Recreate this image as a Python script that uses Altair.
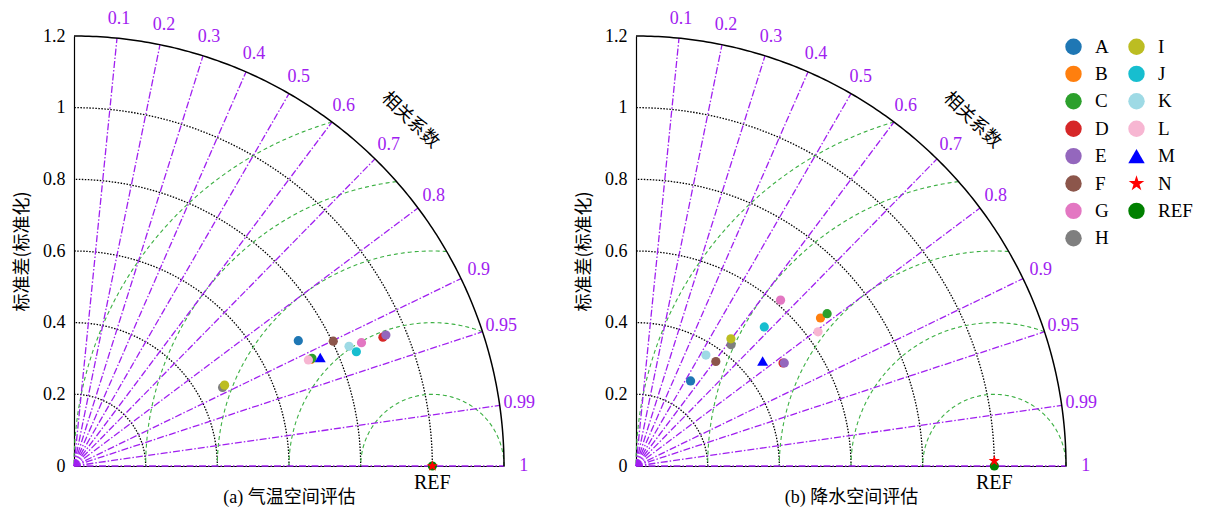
import altair as alt
import numpy as np
import pandas as pd

# ---------------- data ----------------
models = ["A", "B", "C", "D", "E", "F", "G", "H", "I", "J", "K", "L", "M", "N"]
colors = ["#1f77b4", "#ff7f0e", "#2ca02c", "#d62728", "#9467bd", "#8c564b", "#e377c2",
          "#7f7f7f", "#bcbd22", "#17becf", "#9edae5", "#f7b6d2", "#0000ff", "#ff0000"]
STAR = ("M0,-1L0.2245,-0.309L0.9511,-0.309L0.3633,0.118L0.5878,0.809L0,0.382"
        "L-0.5878,0.809L-0.3633,0.118L-0.9511,-0.309L-0.2245,-0.309Z")
shapes = ["circle"] * 12 + ["triangle-up", STAR]
ref_name = "REF"
ref_color = "#008000"

# (a) temperature: normalised std and correlation
temp_std = [0.717, 0.725, 0.729, 0.934, 0.944, 0.803, 0.873, 0.469, 0.477, 0.850, 0.837, 0.718, 0.751, 1.000]
temp_corr = [0.873, 0.912, 0.911, 0.923, 0.922, 0.901, 0.919, 0.884, 0.881, 0.927, 0.917, 0.911, 0.915, 1.000]
# (b) precipitation
prec_std = [0.282, 0.660, 0.682, 0.501, 0.504, 0.367, 0.614, 0.430, 0.443, 0.528, 0.366, 0.631, 0.459, 1.000]
prec_corr = [0.540, 0.780, 0.782, 0.819, 0.821, 0.607, 0.657, 0.617, 0.598, 0.678, 0.533, 0.805, 0.770, 0.9999]

captions = ["(a) 气温空间评估", "(b) 降水空间评估"]
y_title = "标准差(标准化)"
corr_title = "相关系数"

std_grid = [0.2, 0.4, 0.6, 0.8, 1.0]
std_max = 1.2
rms_grid = [0.2, 0.4, 0.6, 0.8, 1.0]
corr_ticks = [0.1, 0.2, 0.3, 0.4, 0.5, 0.6, 0.7, 0.8, 0.9, 0.95, 0.99, 1.0]
corr_labels = ["0.1", "0.2", "0.3", "0.4", "0.5", "0.6", "0.7", "0.8", "0.9", "0.95", "0.99", "1"]
y_ticks = [0, 0.2, 0.4, 0.6, 0.8, 1.0, 1.2]

legend_order = models + [ref_name]

# ---------------- styling ----------------
SERIF = "Liberation Serif, Times New Roman, serif"
CJK = "Noto Sans CJK SC, sans-serif"
MIX = "Liberation Serif, Noto Sans CJK SC, serif"
PURPLE = "#a020f0"
GREEN = "#3cb043"

cmap = dict(zip(models + [ref_name], colors + [ref_color]))
smap = dict(zip(models + [ref_name], shapes + ["circle"]))
color_scale = alt.Scale(domain=legend_order, range=[cmap[k] for k in legend_order])
shape_scale = alt.Scale(domain=legend_order, range=[smap[k] for k in legend_order])

legend = alt.Legend(title=None, orient="none", legendX=990, legendY=1, columns=2,
                    symbolSize=270, labelFont=SERIF, labelFontSize=19, labelColor="black",
                    rowPadding=7.4, columnPadding=18, labelOffset=12, padding=0,
                    symbolStrokeWidth=0)

xs = alt.Scale(domain=[0, std_max], nice=False, zero=True)
ys = alt.Scale(domain=[0, std_max], nice=False, zero=True)


def geometry():
    rows = []
    t = np.linspace(0, np.pi / 2, 181)
    for r in std_grid + [std_max]:
        for i, a in enumerate(t):
            rows.append({"r": r, "i": i, "x": r * np.cos(a), "y": r * np.sin(a)})
    arcs = pd.DataFrame(rows)
    rows = []
    for R in rms_grid:
        cmin = (std_max ** 2 - 1 - R ** 2) / (2 * R)
        pmin = np.arccos(min(1.0, cmin))
        for i, p in enumerate(np.linspace(pmin, np.pi, 181)):
            rows.append({"R": R, "i": i, "x": 1 + R * np.cos(p), "y": R * np.sin(p)})
    rms = pd.DataFrame(rows)
    rows = []
    for c in corr_ticks:
        a = np.arccos(c)
        rows.append({"c": c, "i": 0, "x": 0.0, "y": 0.0})
        rows.append({"c": c, "i": 1, "x": std_max * np.cos(a), "y": std_max * np.sin(a)})
    rays = pd.DataFrame(rows)
    lab = pd.DataFrame({"t": corr_labels,
                        "x": [1.255 * c for c in corr_ticks],
                        "y": [1.255 * np.sin(np.arccos(c)) for c in corr_ticks]})
    return arcs, rms, rays, lab


def panel(std, corr, caption):
    arcs, rms, rays, lab = geometry()
    X = alt.X("x:Q", scale=xs, axis=alt.Axis(title=caption, labels=False, ticks=False, grid=False,
                                             domainColor="black", domainWidth=1.2,
                                             titleFont=MIX, titleFontSize=18, titleFontWeight="normal",
                                             titleColor="black", titlePadding=22))
    Y = alt.Y("y:Q", scale=ys, axis=alt.Axis(title=y_title, values=y_ticks, format="~g", ticks=False,
                                             grid=False, domainColor="black", domainWidth=1.2,
                                             labelFont=SERIF, labelFontSize=18, labelColor="black",
                                             labelPadding=9, titlePadding=11, titleFont=CJK,
                                             titleFontSize=18, titleFontWeight="normal",
                                             titleColor="black"))
    C = alt.Color("m:N", scale=color_scale, legend=legend)
    S = alt.Shape("m:N", scale=shape_scale, legend=legend)

    std_arcs = alt.Chart(arcs[arcs.r < std_max]).mark_line(
        color="black", strokeWidth=1.3, strokeDash=[1.5, 1.5]).encode(
        x=X, y=Y, detail="r:N", order="i:Q")
    outer = alt.Chart(arcs[arcs.r == std_max]).mark_line(
        color="black", strokeWidth=1.5).encode(x=X, y=Y, order="i:Q")
    rms_l = alt.Chart(rms).mark_line(color=GREEN, strokeWidth=1.1, strokeDash=[4, 3]).encode(
        x=X, y=Y, detail="R:N", order="i:Q")
    rays_l = alt.Chart(rays).mark_line(color=PURPLE, strokeWidth=1.3, strokeDash=[7, 2, 1.5, 2]).encode(
        x=X, y=Y, detail="c:N", order="i:Q")
    labels = alt.Chart(lab).mark_text(color=PURPLE, font=SERIF, fontSize=18, align="center",
                                      baseline="middle").encode(x=X, y=Y, text="t:N")
    ang = np.radians(45.8)
    ctitle = alt.Chart(pd.DataFrame({"t": [corr_title], "x": [1.345 * np.cos(ang)],
                                     "y": [1.345 * np.sin(ang)]})).mark_text(
        font=CJK, fontSize=18, angle=44, align="center", baseline="middle", color="black").encode(
        x=X, y=Y, text="t:N")

    pts = pd.DataFrame({"m": models, "std": std, "corr": corr})
    pts["x"] = pts["std"] * pts["corr"]
    pts["y"] = pts["std"] * np.sqrt(1 - pts["corr"] ** 2)
    ref = pd.DataFrame({"m": [ref_name], "x": [1.0], "y": [0.0]})
    ref_l = alt.Chart(ref).mark_point(filled=True, opacity=1, size=85).encode(x=X, y=Y, color=C, shape=S)
    ref_t = alt.Chart(ref).mark_text(font=SERIF, fontSize=20, dy=17, color="black", baseline="middle").encode(
        x=X, y=Y, text="m:N")
    circ = alt.Chart(pts[pts.m.isin(models[:12])]).mark_point(filled=True, opacity=1, size=85).encode(
        x=X, y=Y, color=C, shape=S)
    tri = alt.Chart(pts[pts.m == "M"]).mark_point(filled=True, opacity=1, size=120).encode(
        x=X, y=Y, color=C, shape=S)
    star = alt.Chart(pts[pts.m == "N"]).mark_point(filled=True, opacity=1, size=140).encode(
        x=X, y=Y, color=C, shape=S)

    return alt.layer(std_arcs, rms_l, rays_l, outer, labels, ctitle, ref_l, ref_t, circ, tri, star
                     ).properties(width=430, height=430)


left = panel(temp_std, temp_corr, captions[0])
right = panel(prec_std, prec_corr, captions[1])

chart = (alt.hconcat(left, right, spacing=40)
         .resolve_scale(color="shared", shape="shared")
         .resolve_legend(color="shared", shape="shared")
         .properties(padding={"left": 13, "top": 9, "right": 5, "bottom": 2}, background="white")
         .configure_view(stroke=None))

chart.save("out.html", embed_options={"renderer": "svg", "actions": False})
